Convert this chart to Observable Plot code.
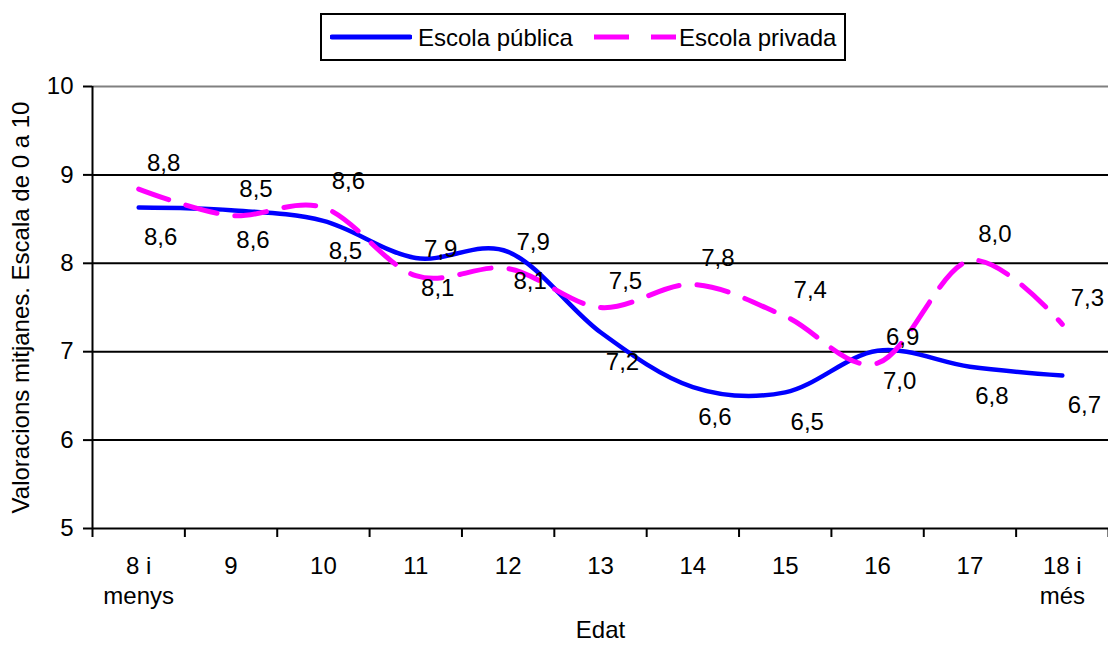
<!DOCTYPE html>
<html>
<head>
<meta charset="utf-8">
<script src="https://cdn.jsdelivr.net/npm/d3@7"></script>
<script src="https://cdn.jsdelivr.net/npm/@observablehq/plot@0.6"></script>
<style>
  html, body { margin: 0; padding: 0; background: #fff; }
  body { width: 1108px; height: 646px; overflow: hidden; font-family: "Liberation Sans", Arial, sans-serif; }
  #legendWrap { position: relative; height: 74px; }
  #legend { position: absolute; left: 320px; top: 13px; width: 522px; height: 44px; border: 2px solid #000; background: #fff; }
  #legend .sw { position: absolute; top: 0; }
  #legend .lb { position: absolute; top: 9px; font-size: 24px; line-height: 28px; color: #000; white-space: nowrap; }
</style>
</head>
<body>
<div id="legendWrap">
  <div id="legend">
    <svg class="sw" style="left:8px" width="82" height="44"><line x1="2" x2="80" y1="22" y2="22" stroke="#0000FF" stroke-width="5" stroke-linecap="round"/></svg>
    <span class="lb" style="left:96px">Escola pública</span>
    <svg class="sw" style="left:272px" width="82" height="44"><line x1="0" x2="82" y1="22" y2="22" stroke="#FF00FF" stroke-width="5" stroke-dasharray="35,22"/></svg>
    <span class="lb" style="left:357px">Escola privada</span>
  </div>
</div>
<div id="chart"></div>
<script>
const categories = ["8 i\nmenys", "9", "10", "11", "12", "13", "14", "15", "16", "17", "18 i\nmés"];
const publica = [8.63, 8.60, 8.48, 8.06, 8.13, 7.22, 6.60, 6.54, 7.01, 6.83, 6.73];
const privada = [8.84, 8.54, 8.63, 7.86, 7.94, 7.50, 7.76, 7.40, 6.87, 8.03, 7.31];
const yTicks = [5, 6, 7, 8, 9, 10];
const yTitle = "Valoracions mitjanes. Escala de 0 a 10";
const xTitle = "Edat";

const pubRows = categories.map((c, i) => ({i, v: publica[i]}));
const privRows = categories.map((c, i) => ({i, v: privada[i]}));
const fmt = v => v.toFixed(1).replace(".", ",");

const chart = Plot.plot({
  width: 1108,
  height: 572,
  marginTop: 12,
  marginBottom: 118,
  marginLeft: 92,
  marginRight: 0,
  style: {fontFamily: "'Liberation Sans', Arial, sans-serif", fontSize: "24px", color: "#000", background: "#fff", overflow: "visible"},
  x: {type: "linear", domain: [-0.5, categories.length - 0.5]},
  y: {domain: [5, 10]},
  marks: [
    Plot.ruleY(yTicks.filter(d => d > 5 && d < 10), {stroke: "#000", strokeWidth: 2}),
    Plot.ruleY([10], {stroke: "#808080", strokeWidth: 2}),
    Plot.ruleX([-0.5], {stroke: "#000", strokeWidth: 2}),
    Plot.ruleY([5], {stroke: "#000", strokeWidth: 2}),
    Plot.axisY(yTicks, {tickSize: 9, tickPadding: 10, tickFormat: d => String(d), strokeWidth: 2, stroke: "#000", fill: "#000", fontSize: 24, label: null}),
    Plot.axisX(d3.range(categories.length), {tickSize: 0, tickPadding: 24, tickFormat: i => categories[i], lineHeight: 1.25, fontSize: 24, fill: "#000", label: null}),
    Plot.axisX(d3.range(categories.length + 1).map(i => i - 0.5), {tickSize: 9, tickFormat: () => "", strokeWidth: 2, stroke: "#000", label: null}),
    Plot.line(pubRows, {x: "i", y: "v", curve: "cardinal", stroke: "#0000FF", strokeWidth: 4.5}),
    Plot.line(privRows, {x: "i", y: "v", curve: "cardinal", stroke: "#FF00FF", strokeWidth: 5, strokeDasharray: "32,18"}),
    Plot.text(privRows, {x: "i", y: "v", text: d => fmt(d.v), dx: 25, dy: -26, fontSize: 24, fill: "#000"}),
    Plot.text(pubRows, {x: "i", y: "v", text: d => fmt(d.v), dx: 22, dy: 30, fontSize: 24, fill: "#000"}),
    Plot.text([yTitle], {frameAnchor: "left", textAnchor: "middle", rotate: -90, dx: -71, fontSize: 24, fill: "#000"}),
    Plot.text([xTitle], {frameAnchor: "bottom", dy: 109, fontSize: 24, fill: "#000"})
  ]
});
document.getElementById("chart").appendChild(chart);
</script>
</body>
</html>
